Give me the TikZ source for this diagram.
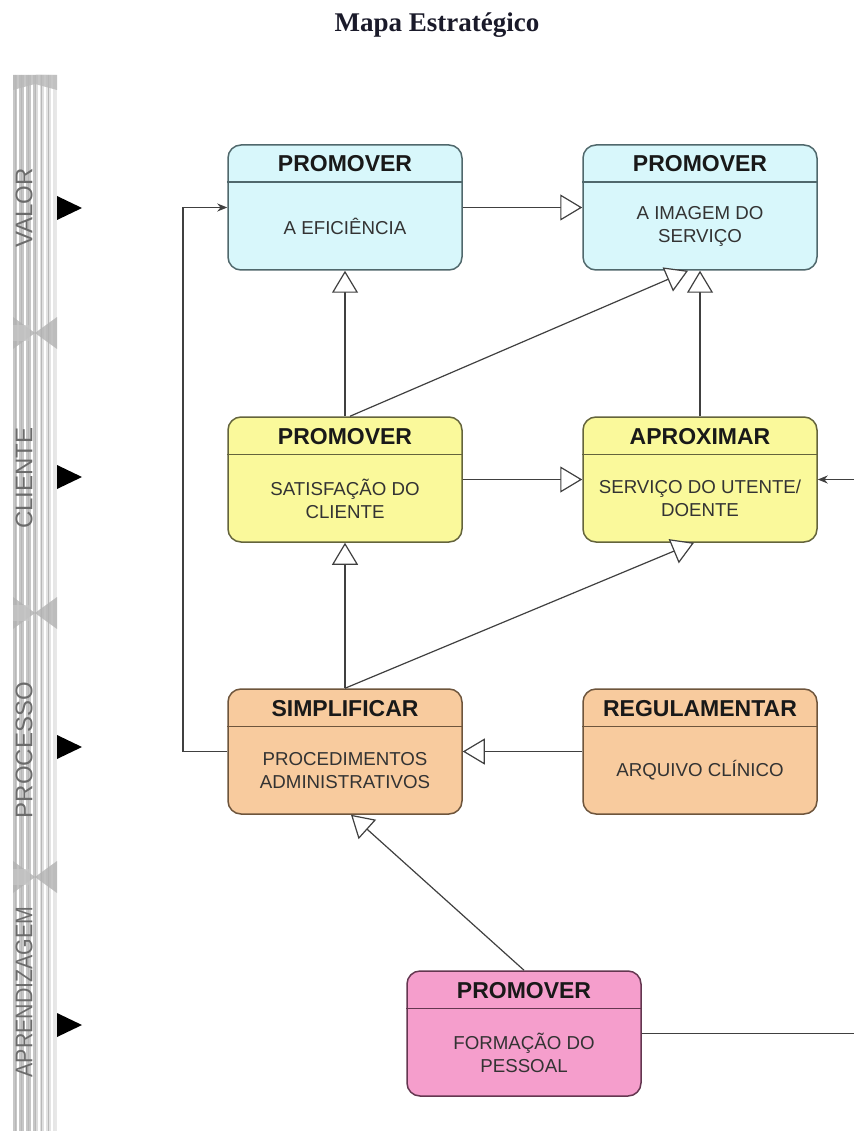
\documentclass[tikz,border=0pt]{standalone}
\usepackage{fontspec}
\setmainfont{Liberation Serif}
\newfontfamily\arialfont{Liberation Sans}
\usetikzlibrary{arrows.meta,calc}

\definecolor{cyanfill}{RGB}{216,247,251}
\definecolor{cyanline}{RGB}{80,104,108}
\definecolor{yelfill}{RGB}{250,249,155}
\definecolor{yelline}{RGB}{100,100,60}
\definecolor{orfill}{RGB}{248,203,158}
\definecolor{orline}{RGB}{110,85,60}
\definecolor{pkfill}{RGB}{245,158,204}
\definecolor{pkline}{RGB}{100,55,80}
\definecolor{wire}{RGB}{64,64,64}
\definecolor{titleink}{RGB}{26,26,42}

\tikzset{
  mbox/.style={rectangle, rounded corners=13pt, minimum width=234pt,
    minimum height=125pt, line width=1.5pt, inner sep=0pt},
  mtitle/.style={font=\arialfont\bfseries\fontsize{23}{26}\selectfont,
    text=black!90, inner sep=0pt, anchor=base},
  mbody/.style={font=\arialfont\fontsize{18.7}{23}\selectfont, text=black!80,
    align=center, inner sep=0pt},
  flow/.style={draw=wire, line width=1.2pt,
    -{Triangle[fill=white, length=22pt, width=26pt]}},
  link/.style={draw=wire, line width=1.2pt, -{Stealth[length=10pt, width=8pt]}},
  plain/.style={draw=wire, line width=1.2pt},
  sidelabel/.style={font=\arialfont\fontsize{24}{26}\selectfont, text=black!58,
    rotate=90, inner sep=0pt},
}

% objective box: name, centre x, top y, fill, border, heading, body
\newcommand\mapbox[7]{%
  \node[mbox, fill=#4, draw=#5] (#1) at (#2,#3+62.5) {};
  \draw[draw=#5, line width=1.5pt] ([yshift=-38pt]#1.north west) -- ([yshift=-38pt]#1.north east);
  \node[mtitle] (#1-title) at (#2,#3+27) {#6};
  \node[mbody] (#1-body) at (#2,#3+81.5) {#7};
}

% joint between two perspective bands
\newcommand\bandjoint[1]{%
  \fill[black!30, opacity=.8] (13,#1-16) -- (35,#1) -- (13,#1+16) -- cycle;
  \fill[black!30, opacity=.8] (57,#1-16) -- (35,#1) -- (57,#1+16) -- cycle;
  \fill[black!22, opacity=.7] (13,#1-8) rectangle (30,#1+8);
}

\begin{document}
\begin{tikzpicture}[x=1pt,y=-1pt]
\useasboundingbox (0,0) rectangle (854,1131);
\fill[white] (0,0) rectangle (854,1131);

% title
\node[font=\bfseries\fontsize{27}{30}\selectfont, text=titleink, anchor=base, inner sep=0pt]
  (title) at (437,32) {Mapa Estratégico};

% striped perspective band
\fill[black!22] (13,75) rectangle (57,1131);
\shade[left color=black!8, right color=white, opacity=.6] (36,75) rectangle (57,1131);
\foreach \x in {18,25,32,38.5,45,51.5}
  \draw[white, line width=2pt] (\x,75) -- (\x,1131);
\foreach \x in {15,21.5,28.5,35,41.5,48}
  \draw[black!28, line width=0.8pt] (\x,75) -- (\x,1131);
\fill[black!28, opacity=.8] (13,75) -- (57,75) -- (57,90) -- (35,84) -- (13,90) -- cycle;
\bandjoint{333}
\bandjoint{613}
\bandjoint{877}

% perspective names
\node[sidelabel] (lvalor) at (24,208) {VALOR};
\node[sidelabel] (lcliente) at (24,478) {CLIENTE};
\node[sidelabel] (lprocesso) at (24,750) {PROCESSO};
\node[sidelabel] (laprend) at (24,992) {\scalebox{0.89}[1]{APRENDIZAGEM}};

% level markers
\foreach \y in {208,477,747,1025}
  \fill[black] (57,\y-12) -- (82,\y) -- (57,\y+12) -- cycle;

% objectives
\mapbox{eff}{345}{145}{cyanfill}{cyanline}{PROMOVER}{A EFICIÊNCIA}
\mapbox{img}{700}{145}{cyanfill}{cyanline}{PROMOVER}{A IMAGEM DO\\SERVIÇO}
\mapbox{sat}{345}{417}{yelfill}{yelline}{PROMOVER}{SATISFAÇÃO DO\\CLIENTE}
\mapbox{apr}{700}{417}{yelfill}{yelline}{APROXIMAR}{SERVIÇO DO UTENTE/\\DOENTE}
\mapbox{simp}{345}{689}{orfill}{orline}{SIMPLIFICAR}{PROCEDIMENTOS\\ADMINISTRATIVOS}
\mapbox{reg}{700}{689}{orfill}{orline}{REGULAMENTAR}{ARQUIVO CLÍNICO}
\mapbox{pes}{524}{971}{pkfill}{pkline}{PROMOVER}{FORMAÇÃO DO\\PESSOAL}

% cause-effect links
\draw[flow] (eff.east) -- (img.west);
\draw[flow] (sat.north) -- (eff.south);
\draw[flow] ([xshift=5pt]sat.north) -- ([xshift=-12pt]img.south);
\draw[flow] (apr.north) -- (img.south);
\draw[flow] (sat.east) -- (apr.west);
\draw[flow] (simp.north) -- (sat.south);
\draw[flow] (simp.north) -- ([xshift=-6pt]apr.south);
\draw[flow] (reg.west) -- (simp.east);
\draw[flow] (pes.north) -- ([xshift=6pt]simp.south);

% feedback paths
\coordinate (loopcorner) at (183,751.5);
\draw[link] (simp.west) -- (loopcorner) |- (eff.west);
\coordinate (rin) at (854,479.5);
\draw[link] (rin) -- (apr.east);
\coordinate (rout) at (854,1033.5);
\draw[plain] (pes.east) -- (rout);
\end{tikzpicture}
\end{document}
